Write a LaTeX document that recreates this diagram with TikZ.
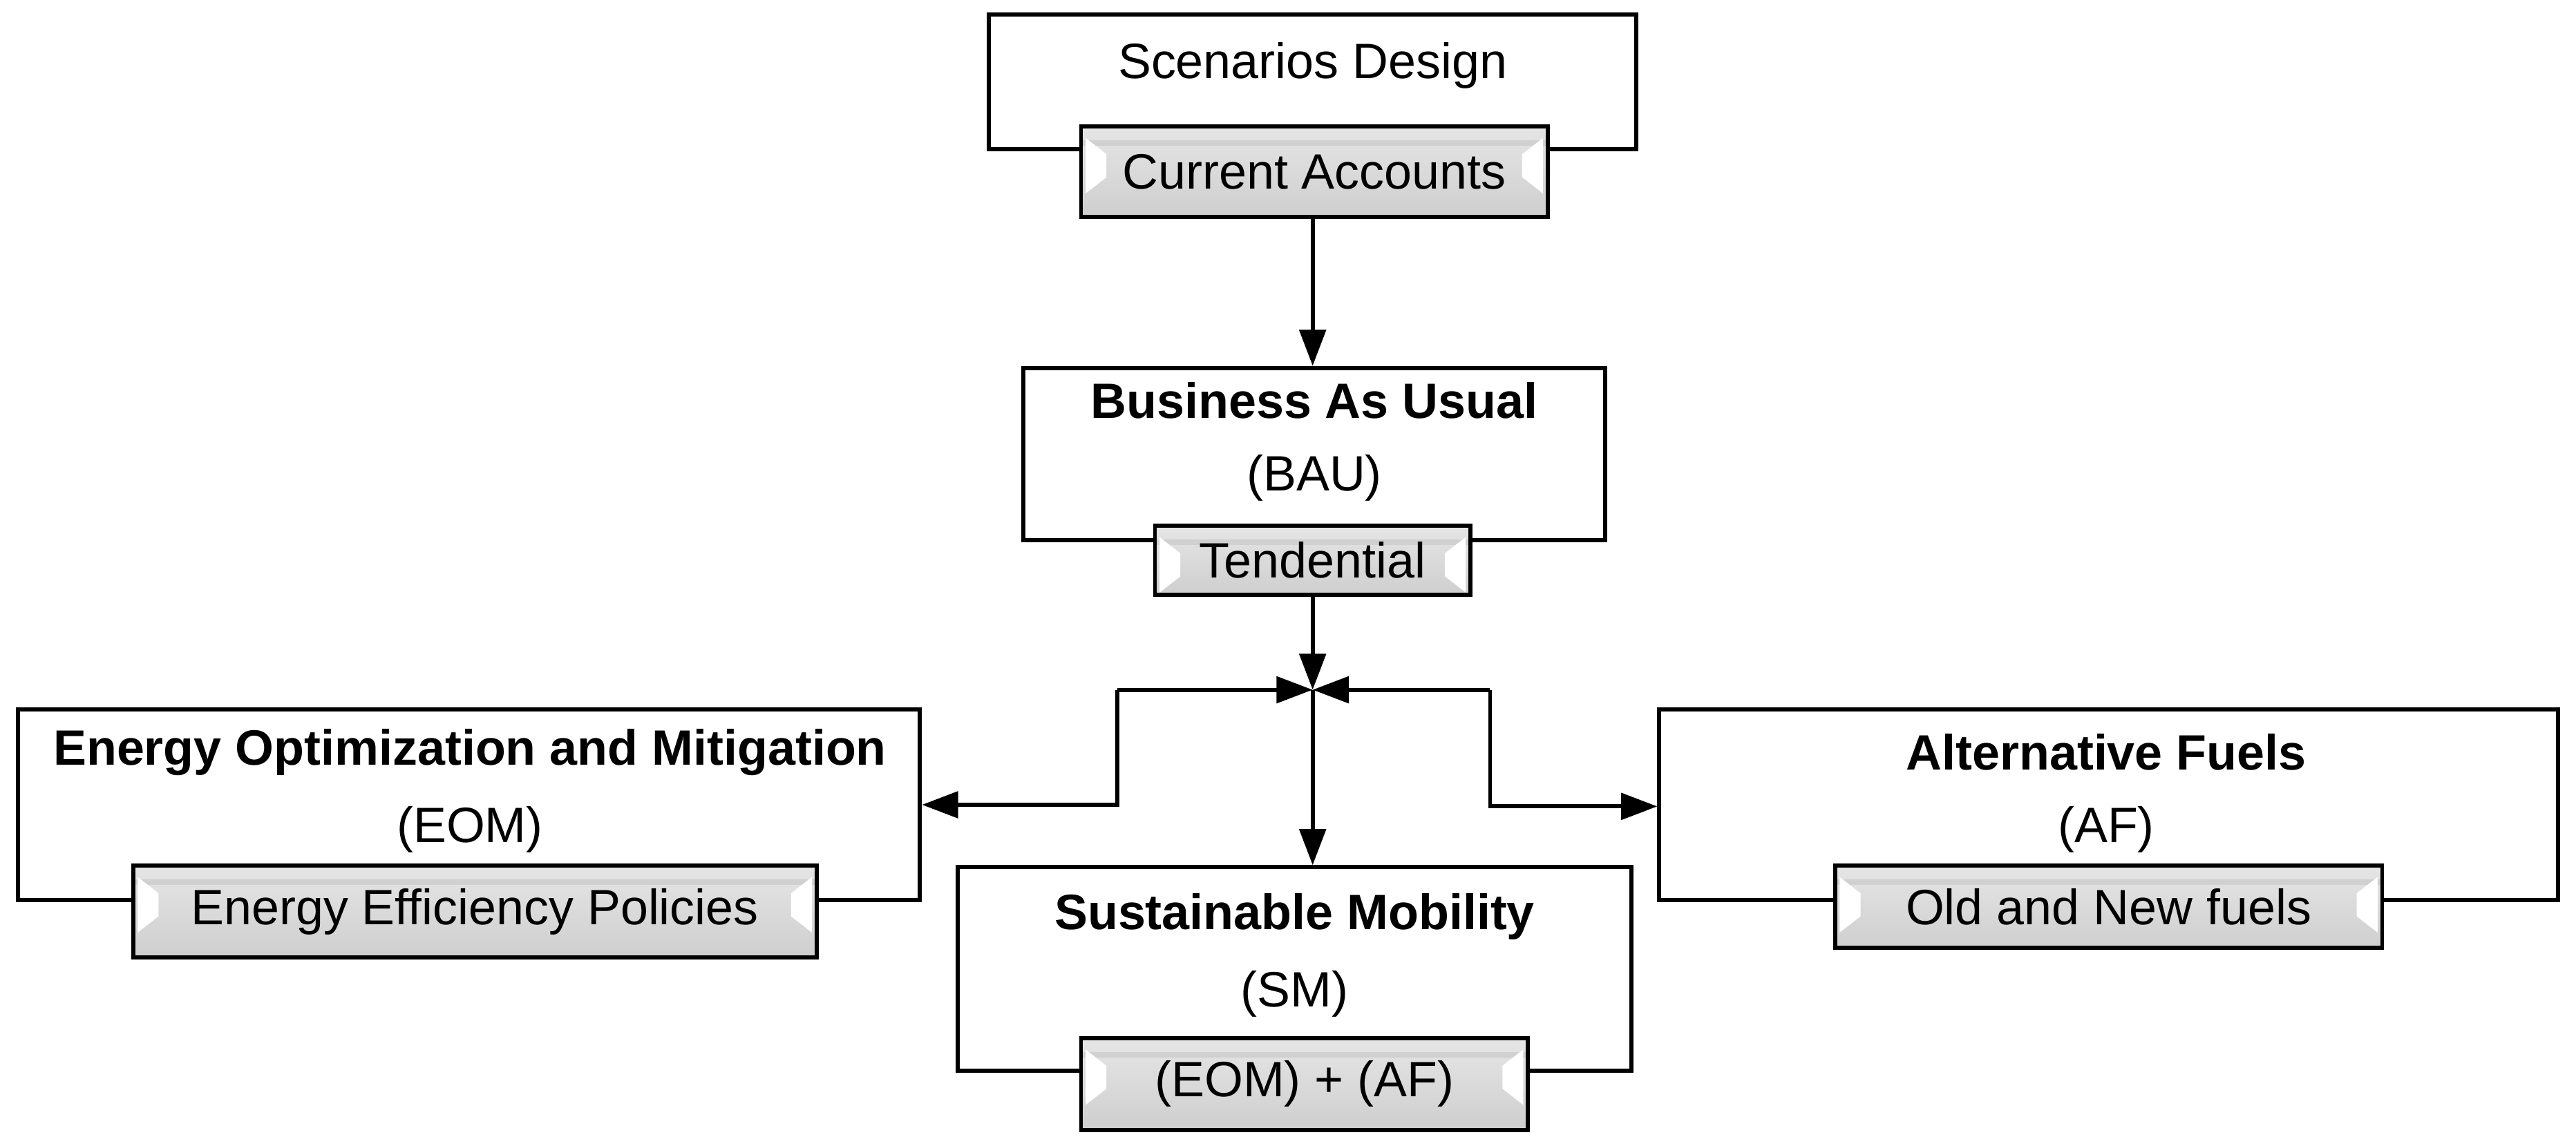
\documentclass[tikz,border=0pt]{standalone}
\usepackage{fontspec}
\setmainfont{Liberation Sans}
\usetikzlibrary{arrows.meta}
\begin{document}
\begin{tikzpicture}[x=0.1cm,y=-0.1cm,
  wbox/.style={draw=black,line width=7pt,fill=white,inner sep=0pt},
  gbox/.style={draw=black,line width=7pt,inner sep=0pt,top color=gray!20,bottom color=gray!38,
    path picture={
      \fill[gray!45,opacity=.6] (path picture bounding box.north west) ++(0,-34pt) rectangle ([yshift=-24pt]path picture bounding box.north east);
      \fill[white] (path picture bounding box.north west) ++(8pt,-20pt) -- ++(36pt,-28pt) -- ++(0,-40pt) -- ++(-36pt,-28pt) -- cycle;
      \fill[white] (path picture bounding box.north east) ++(-8pt,-20pt) -- ++(-36pt,-28pt) -- ++(0,-40pt) -- ++(36pt,-28pt) -- cycle;
    }},
  ttl/.style={font=\fontsize{86}{100}\selectfont\bfseries},
  txt/.style={font=\fontsize{86}{100}\selectfont},
  conn/.style={line width=7pt},
  arr/.style={line width=7pt,-{Triangle[length=2.2cm,width=1.6cm]}}]
\useasboundingbox (0,0) rectangle (1568,697.7);
% white boxes
\node[wbox,minimum width=39.4cm,minimum height=8.2cm] (sd) at (799,50) {};
\node[wbox,minimum width=35.4cm,minimum height=10.5cm] (bau) at (800,276.5) {};
\node[wbox,minimum width=54.9cm,minimum height=11.6cm] (eom) at (285.5,490) {};
\node[wbox,minimum width=41cm,minimum height=12.4cm] (sm) at (788,590) {};
\node[wbox,minimum width=54.7cm,minimum height=11.6cm] (af) at (1283.5,490) {};
% gray labels
\node[gbox,minimum width=28.4cm,minimum height=5.5cm] (ca) at (800,104.5) {};
\node[gbox,minimum width=19.2cm,minimum height=4.2cm] (td) at (799,341) {};
\node[gbox,minimum width=41.6cm,minimum height=5.6cm] (ee) at (289,555) {};
\node[gbox,minimum width=27.2cm,minimum height=5.6cm] (ea) at (794,660) {};
\node[gbox,minimum width=33.3cm,minimum height=5cm] (of) at (1283.5,552) {};
\node[txt] at (ca) {Current Accounts};
\node[txt] at (td) {Tendential};
\node[txt] at (ee) {Energy Efficiency Policies};
\node[txt] at (ea) {(EOM) + (AF)};
\node[txt] at (of) {Old and New fuels};
% titles
\node[txt] at (799,40) {Scenarios Design};
\node[ttl] at (800,244) {Business As Usual};
\node[txt] at (800,291) {(BAU)};
\node[ttl] at (286,458) {Energy Optimization and Mitigation};
\node[txt] at (286,505) {(EOM)};
\node[ttl] at (788,558) {Sustainable Mobility};
\node[txt] at (788,605) {(SM)};
\node[ttl] at (1282,458) {Alternative Fuels};
\node[txt] at (1282,505) {(AF)};
% connectors
\coordinate (j) at (799,420);
\coordinate (l1) at (680,420);
\coordinate (l2) at (680,490);
\coordinate (r1) at (907,420);
\coordinate (r2) at (907,491);
\draw[arr] (ca.south -| j) -- (bau.north -| j);
\draw[arr] (td.south -| j) -- (j);
\draw[arr] (j) -- (sm.north -| j);
\draw[arr] (l1) -- (j);
\draw[arr] (r1) -- (j);
\draw[arr] (l1) -- (l2) -- (eom.east |- l2);
\draw[arr] (r1) -- (r2) -- (af.west |- r2);
\end{tikzpicture}
\end{document}
